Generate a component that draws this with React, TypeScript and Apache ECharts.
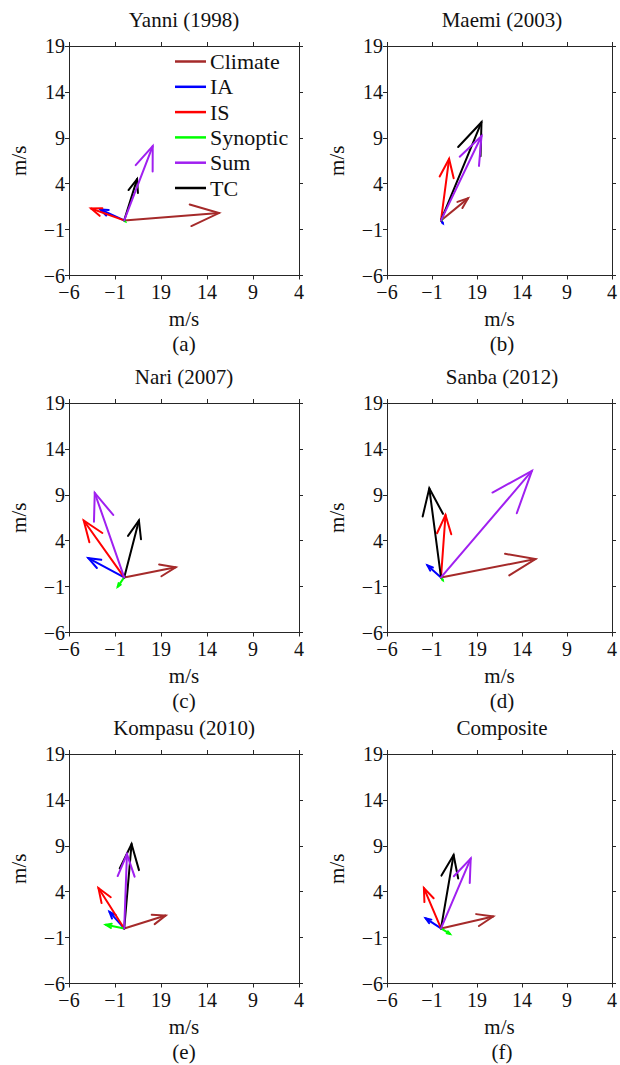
import React, { useEffect, useRef } from "react";
import * as echarts from "echarts";

// ---- data ----
const components = ["Climate", "IA", "IS", "Synoptic", "Sum", "TC"];
const componentColors = ["#A52A2A", "#0000FF", "#FF0000", "#00FF00", "#A020F0", "#000000"];

const panelTitles = ["Yanni (1998)", "Maemi (2003)", "Nari (2007)", "Sanba (2012)", "Kompasu (2010)", "Composite"];
const panelLetters = ["(a)", "(b)", "(c)", "(d)", "(e)", "(f)"];

// vectors [u, v] (m/s) in order: Climate, IA, IS, Synoptic, Sum, TC
const yanni = [[10.3, 0.8], [-2.6, 1.2], [-3.6, 1.3], [0.1, -0.1], [3.1, 8.1], [1.4, 4.5]];
const maemi = [[3.0, 2.4], [0.2, -0.3], [0.9, 6.7], [0.1, 0.1], [4.5, 9.2], [4.5, 10.7]];
const nari = [[5.6, 1.1], [-3.9, 2.1], [-4.4, 6.2], [-0.7, -1.0], [-3.2, 9.2], [1.6, 6.2]];
const sanba = [[10.5, 2.0], [-1.5, 1.3], [0.5, 6.8], [0.2, -0.3], [10.1, 11.6], [-1.3, 9.7]];
const kompasu = [[4.5, 1.4], [-1.6, 1.8], [-2.8, 4.4], [-2.0, 0.4], [0.3, 8.1], [0.8, 9.2]];
const composite = [[5.8, 1.3], [-1.7, 1.1], [-1.9, 4.4], [1.0, -0.6], [3.3, 7.6], [1.4, 8.0]];
const panels = [yanni, maemi, nari, sanba, kompasu, composite];

const tickValues = [-6, -1, 4, 9, 14, 19];
const xTickLabels = ["−6", "−1", "19", "14", "9", "4"];
const yTickLabels = ["−6", "−1", "4", "9", "14", "19"];
const axisMin = -6;
const axisMax = 19;
const axisName = "m/s";

// draw order (TC before Sum so Sum overlays)
const drawOrder = [0, 1, 2, 3, 5, 4];

const FONT = "Liberation Serif";
const TICK_FS = 20;
const FS = 21;
const LEGEND_FS = 22;
const AXIS_COLOR = "#262626";
const TEXT_COLOR = "#111";

const gridLefts = [69, 387];
const rowTops = [46, 403, 754];
const boxW = 230;
const boxH = 229.5;

function labelFor(v: number, labels: string[]) {
  const idx = tickValues.indexOf(Math.round(v));
  return idx >= 0 ? labels[idx] : "";
}

export default function App() {
  const ref = useRef<HTMLDivElement>(null);
  useEffect(() => {
    if (!ref.current) return;
    const chart = echarts.init(ref.current, undefined, { renderer: "svg" });

    const grids: any[] = [];
    const xAxes: any[] = [];
    const yAxes: any[] = [];
    const series: any[] = [];
    const graphics: any[] = [];

    const lineStyle = { color: AXIS_COLOR, width: 1 };

    panels.forEach((vecs, i) => {
      const col = i % 2;
      const row = Math.floor(i / 2);
      const left = gridLefts[col];
      const top = rowTops[row];
      grids.push({ left, top, width: boxW, height: boxH, containLabel: false });

      const base = {
        type: "value",
        gridIndex: i,
        min: axisMin,
        max: axisMax,
        splitLine: { show: false },
        axisLine: { show: true, onZero: false, lineStyle },
        axisTick: { show: true, inside: false, length: 4, customValues: tickValues, lineStyle },
      };
      xAxes.push({
        ...base,
        position: "bottom",
        name: axisName,
        nameLocation: "middle",
        nameGap: 33,
        nameTextStyle: { fontFamily: FONT, fontSize: FS, color: TEXT_COLOR },
        axisLabel: {
          show: true,
          customValues: tickValues,
          formatter: (v: number) => labelFor(v, xTickLabels),
          fontFamily: FONT,
          fontSize: TICK_FS,
          color: TEXT_COLOR,
          margin: 6,
        },
      });
      xAxes.push({ ...base, position: "top", axisLabel: { show: false } });
      yAxes.push({
        ...base,
        position: "left",
        name: axisName,
        nameLocation: "middle",
        nameRotate: 90,
        nameGap: 40,
        nameTextStyle: { fontFamily: FONT, fontSize: FS, color: TEXT_COLOR },
        axisLabel: {
          show: true,
          customValues: tickValues,
          formatter: (v: number) => labelFor(v, yTickLabels),
          fontFamily: FONT,
          fontSize: TICK_FS,
          color: TEXT_COLOR,
          margin: 4,
        },
      });
      yAxes.push({ ...base, position: "right", axisLabel: { show: false } });

      drawOrder.forEach((c) => {
        const color = componentColors[c];
        series.push({
          type: "custom",
          name: components[c],
          xAxisIndex: 2 * i,
          yAxisIndex: 2 * i,
          silent: true,
          color,
          itemStyle: { color },
          data: [vecs[c]],
          renderItem: (_params: any, api: any) => {
            const u = api.value(0);
            const v = api.value(1);
            const o = api.coord([0, 0]);
            const t = api.coord([u, v]);
            const dx = t[0] - o[0];
            const dy = t[1] - o[1];
            const A = 0.3;
            const B = 0.38;
            const b1 = [t[0] - A * (dx + B * dy), t[1] - A * (dy - B * dx)];
            const b2 = [t[0] - A * (dx - B * dy), t[1] - A * (dy + B * dx)];
            return {
              type: "group",
              children: [
                {
                  type: "line",
                  shape: { x1: o[0], y1: o[1], x2: t[0], y2: t[1] },
                  style: { stroke: color, lineWidth: 2, lineCap: "round" },
                },
                {
                  type: "polyline",
                  shape: { points: [b1, t, b2] },
                  style: { stroke: color, lineWidth: 2, fill: null, lineJoin: "miter", lineCap: "round" },
                },
              ],
            };
          },
        });
      });

      const cx = left + boxW / 2;
      graphics.push({
        type: "text",
        x: cx,
        y: top - 26,
        style: {
          text: panelTitles[i],
          fontFamily: FONT,
          fontSize: FS,
          fill: TEXT_COLOR,
          align: "center",
          verticalAlign: "middle",
        },
      });
      graphics.push({
        type: "text",
        x: cx,
        y: top + boxH + 68,
        style: {
          text: panelLetters[i],
          fontFamily: FONT,
          fontSize: FS,
          fill: TEXT_COLOR,
          align: "center",
          verticalAlign: "middle",
        },
      });
    });

    chart.setOption({
      animation: false,
      backgroundColor: "#ffffff",
      grid: grids,
      xAxis: xAxes,
      yAxis: yAxes,
      legend: {
        data: components,
        orient: "vertical",
        left: 175,
        top: 50.5,
        icon: "rect",
        itemWidth: 31,
        itemHeight: 2.5,
        itemGap: 3.3,
        padding: 0,
        selectedMode: false,
        textStyle: { fontFamily: FONT, fontSize: LEGEND_FS, lineHeight: 22, color: TEXT_COLOR, padding: [0, 0, 0, -1] },
      },
      graphic: graphics,
      series,
    });

    return () => chart.dispose();
  }, []);

  return (
    <div
      ref={ref}
      style={{ position: "absolute", left: 0, top: 0, width: 620, height: 1065, background: "#fff" }}
    />
  );
}
